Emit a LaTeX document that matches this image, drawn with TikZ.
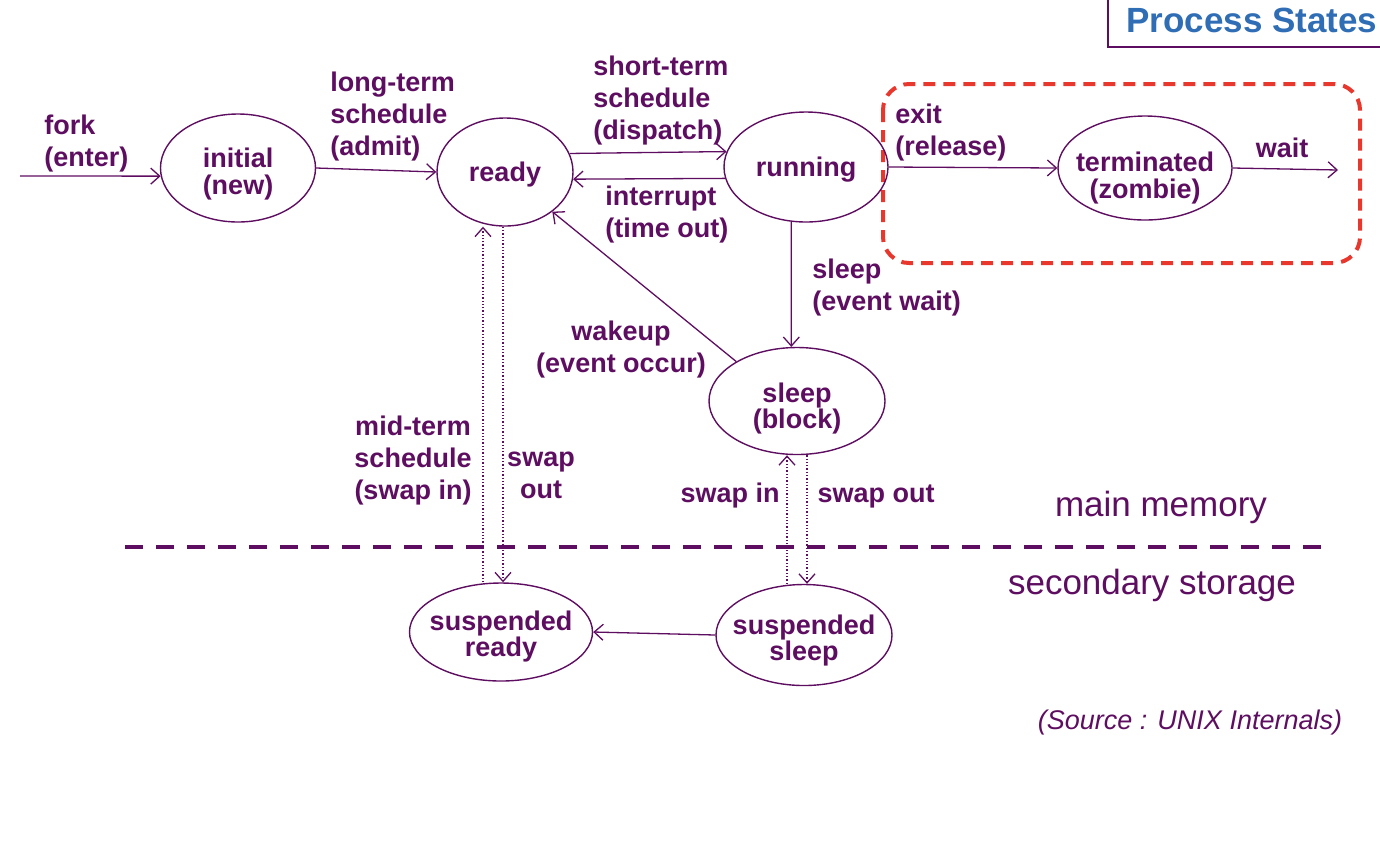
\documentclass[tikz,border=0pt]{standalone}
\usepackage{fontspec}
\setmainfont{Liberation Sans}
\usetikzlibrary{arrows.meta,shapes.geometric}
\definecolor{procpurple}{RGB}{94,14,96}
\definecolor{titleblue}{RGB}{47,109,181}
\definecolor{zombiered}{RGB}{232,56,46}
\newcommand{\statetext}[2][-7pt]{\raisebox{#1}[0pt][0pt]{\makebox[0pt]{\begin{tabular}{@{}c@{}}#2\end{tabular}}}}
\tikzset{
  state/.style={ellipse, draw=procpurple, line width=0.7pt, inner sep=0pt,
    font=\fontsize{13.5}{11.5}\selectfont\bfseries, text=procpurple},
  tightstate/.style={state, font=\fontsize{13.5}{10.5}\selectfont\bfseries},
  trans/.style={draw=procpurple, line width=0.65pt, -{Straight Barb[length=4.5pt,width=8pt]}},
  swaptrans/.style={trans, densely dotted},
  lbl/.style={font=\fontsize{13.5}{16}\selectfont\bfseries, text=procpurple, inner sep=0pt},
  area/.style={font=\fontsize{17.5}{20}\selectfont, text=procpurple, inner sep=0pt}
}
\begin{document}
\begin{tikzpicture}[x=0.5pt, y=-0.5pt]
  \useasboundingbox (0,0) rectangle (1380,858);
  % Title
  \draw[procpurple, line width=1pt] (1108,0) |- (1380,47);
  \node[font=\fontsize{17.5}{20}\selectfont\bfseries, text=titleblue, inner sep=0pt] (title) at (1252,20) {Process States};
  % Zombie frame and memory boundary
  \draw[zombiered, line width=2pt, dash pattern=on 6pt off 4pt, rounded corners=13pt] (883,84) rectangle (1360,263);
  \draw[procpurple, line width=2pt, dash pattern=on 9pt off 6.5pt] (125,547) -- (1325,547);
  \node[area] (mainmem) at (1161,507) {main memory};
  \node[area] (secstore) at (1152,585) {secondary storage};
  % States
  \node[state, minimum width=77.5pt, minimum height=54pt] (initial) at (238,168) {\statetext{initial\\(new)}};
  \node[state, minimum width=68pt, minimum height=54pt] (ready) at (505,172) {\statetext[-5pt]{ready}};
  \node[state, minimum width=82pt, minimum height=55pt] (running) at (806,167) {\statetext[-5pt]{running}};
  \node[state, minimum width=87pt, minimum height=52pt] (terminated) at (1145,168) {\statetext[-9pt]{terminated\\(zombie)}};
  \node[tightstate, minimum width=88pt, minimum height=53.5pt] (sleep) at (797,401) {\statetext[-7.5pt]{sleep\\(block)}};
  \node[tightstate, minimum width=91.5pt, minimum height=49pt] (susready) at (501,632) {\statetext[-6pt]{suspended\\ready}};
  \node[tightstate, minimum width=88pt, minimum height=50.5pt] (sussleep) at (804,635) {\statetext[-6.5pt]{suspended\\sleep}};
  \coordinate (forkin) at (20,176);
  \coordinate (waitout) at (1338,170);
  % Transitions
  \draw[trans] (forkin) -- (initial.186);
  \draw[trans] (initial.east) -- (ready.west);
  \draw[trans] (ready.16) -- (running.169);
  \draw[trans] (running.188) -- (ready.-6);
  \draw[trans] (running.east) -- (terminated.west);
  \draw[trans] (terminated.east) -- (waitout);
  \draw[trans] (running.255) -- (sleep.96);
  \draw[trans] (sleep.147) -- (ready.-40);
  \draw[trans] (sussleep.west) -- (susready.east);
  % Swapping
  \draw[swaptrans] ([xshift=-1pt]ready.south) -- ([xshift=-1pt]ready.south |- susready.north);
  \draw[swaptrans] ([xshift=-11pt]ready.south |- susready.north) -- ([xshift=-11pt]ready.south);
  \draw[swaptrans] ([xshift=-5pt]sleep.south |- sussleep.north) -- ([xshift=-5pt]sleep.south);
  \draw[swaptrans] ([xshift=5pt]sleep.south) -- ([xshift=5pt]sleep.south |- sussleep.north);
  % Labels
  \node[lbl, align=left, anchor=north west] (forklbl) at (44,115) {fork\\(enter)};
  \node[lbl, align=left, anchor=north west] (admitlbl) at (330,72) {long-term\\schedule\\(admit)};
  \node[lbl, align=left, anchor=north west] (dispatchlbl) at (593,56) {short-term\\schedule\\(dispatch)};
  \node[lbl, align=left, anchor=north west] (timeoutlbl) at (605,186) {interrupt\\(time out)};
  \node[lbl, align=left, anchor=north west] (exitlbl) at (895,104) {exit\\(release)};
  \node[lbl] (waitlbl) at (1282,148) {wait};
  \node[lbl, align=left, anchor=north west] (sleeplbl) at (812,259) {sleep\\(event wait)};
  \node[lbl, align=center] (wakeuplbl) at (621,350) {wakeup\\(event occur)};
  \node[lbl, align=center] (swapinlbl) at (413,461) {mid-term\\schedule\\(swap in)};
  \node[lbl, align=center] (swapoutlbl) at (541,475) {swap\\out};
  \node[lbl] (sleepinlbl) at (730,496) {swap in};
  \node[lbl] (sleepoutlbl) at (876,496) {swap out};
  \node[font=\fontsize{13.5}{16}\selectfont\itshape, text=procpurple, inner sep=0pt] (source) at (1190,722) {(Source : UNIX Internals)};
\end{tikzpicture}
\end{document}
